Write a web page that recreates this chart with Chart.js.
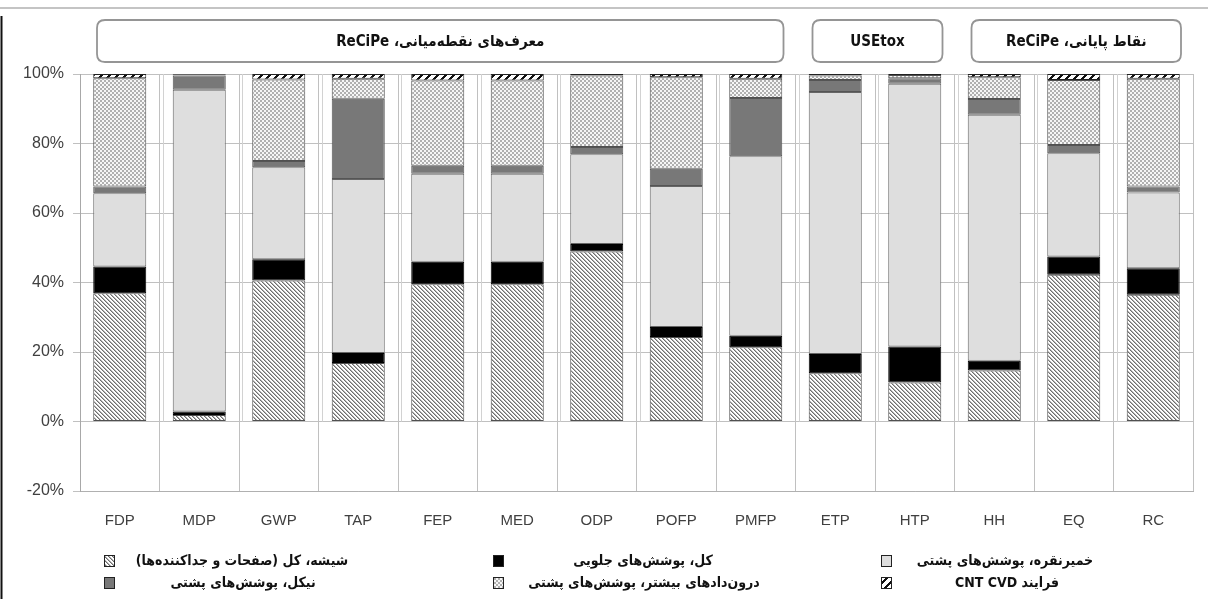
<!DOCTYPE html>
<html lang="fa">
<head>
<meta charset="utf-8">
<title>سهم اجزا در شاخص‌های اثر</title>
<script src="https://cdn.jsdelivr.net/npm/chart.js@4.4.1/dist/chart.umd.min.js"></script>
<style>
  html, body { margin: 0; padding: 0; background: #fff; }
  #wrap { position: relative; width: 1208px; height: 599px; }
  canvas { display: block; }
</style>
</head>
<body>
<div id="wrap"><canvas id="c" width="1208" height="599"></canvas></div>
<script>
// Impact categories along the x axis
const categories = ['FDP','MDP','GWP','TAP','FEP','MED','ODP','POFP','PMFP','ETP','HTP','HH','EQ','RC'];

// Share of each component (%), stacked bottom to top
const glassTotal      = [36.9, 1.9, 40.6, 16.8, 39.5, 39.5, 48.9, 24.3, 21.4, 13.9, 11.2, 14.7, 42.2, 36.5];
const frontContacts   = [ 7.7, 1.0,  6.1,  2.9,  6.5,  6.5,  2.2,  2.9,  3.3,  5.5, 10.4,  2.8,  5.3,  7.6];
const silverPaste     = [21.1,92.6, 26.5, 50.1, 25.3, 25.3, 25.8, 40.6, 51.6, 75.4, 75.6, 70.8, 29.7, 21.8];
const nickelBack      = [ 1.9, 4.1,  1.8, 23.1,  2.3,  2.3,  2.1,  4.9, 16.8,  3.5,  1.6,  4.5,  2.4,  1.7];
const otherInputsBack = [31.2, 0.2, 23.4,  5.7, 24.5, 24.5, 20.6, 26.4,  5.5,  1.3,  0.9,  6.3, 18.7, 31.0];
const cntCvd          = [ 1.2, 0.2,  1.6,  1.4,  1.9,  1.9,  0.4,  0.9,  1.4,  0.4,  0.3,  0.9,  1.7,  1.4];

const seriesNames = [
  'شیشه، کل (صفحات و جداکننده‌ها)',
  'کل، پوشش‌های جلویی',
  'خمیرنقره، پوشش‌های پشتی',
  'نیکل، پوشش‌های پشتی',
  'درون‌دادهای بیشتر، پوشش‌های پشتی',
  'فرایند CNT CVD'
];

// Method groups shown in boxes above the bars (first and last category index)
const groupLabels = ['معرف‌های نقطه‌میانی، ReCiPe', 'USEtox', 'نقاط پایانی، ReCiPe'];
const groupFirst  = [0, 9, 11];
const groupLast   = [8, 10, 13];

const yTicks = [-20, 0, 20, 40, 60, 80, 100];

// ---- fill patterns ----
function tile(size, paint) {
  const c = document.createElement('canvas');
  c.width = c.height = size;
  const g = c.getContext('2d');
  paint(g, size);
  return document.createElement('canvas').getContext('2d').createPattern(c, 'repeat');
}
const patGlass = tile(4, (g, s) => {
  g.fillStyle = '#ffffff'; g.fillRect(0, 0, s, s);
  g.fillStyle = '#6e6e6e';
  for (let i = 0; i < s; i++) g.fillRect(i, i, 1, 1);
  g.fillStyle = '#b4b4b4';
  for (let i = 0; i < s; i++) g.fillRect((i + 1) % s, i, 1, 1);
});
const patDots = tile(4, (g, s) => {
  g.fillStyle = '#f6f6f6'; g.fillRect(0, 0, s, s);
  g.fillStyle = '#b0b0b0';
  g.fillRect(0, 0, 2, 2); g.fillRect(2, 2, 2, 2);
});
const patCnt = tile(8, (g, s) => {
  g.fillStyle = '#ffffff'; g.fillRect(0, 0, s, s);
  g.fillStyle = '#111111';
  for (let y = 0; y < s; y++) for (let w = 0; w < 3; w++) g.fillRect((s - 1 - y + w) % s, y, 1, 1);
});

const fills   = [patGlass, '#000000', '#dedede', '#787878', patDots, patCnt];
const borders = ['#505050', '#000000', '#666666', '#555555', '#505050', '#222222'];
const seriesData = [glassTotal, frontContacts, silverPaste, nickelBack, otherInputsBack, cntCvd];

// ---- group boxes, legend and frame ----
function roundRect(ctx, x, y, w, h, r) {
  ctx.beginPath();
  ctx.moveTo(x + r, y);
  ctx.lineTo(x + w - r, y); ctx.quadraticCurveTo(x + w, y, x + w, y + r);
  ctx.lineTo(x + w, y + h - r); ctx.quadraticCurveTo(x + w, y + h, x + w - r, y + h);
  ctx.lineTo(x + r, y + h); ctx.quadraticCurveTo(x, y + h, x, y + h - r);
  ctx.lineTo(x, y + r); ctx.quadraticCurveTo(x, y, x + r, y);
  ctx.closePath();
}

// legend slots: [series index, column centre of text, icon x, row y]
const legendSlots = [
  [0, 242, 109, 561], [1, 643, 498, 561], [2, 1005, 886, 561],
  [3, 243, 109, 583], [4, 644, 498, 583], [5, 1007, 886, 583]
];

const decor = {
  id: 'decor',
  beforeDatasetsDraw(chart) {
    // faint companion line beside each category divider, across the positive range
    const ctx = chart.ctx;
    const x = chart.scales.x, y = chart.scales.y;
    const half = (x.getPixelForValue(1) - x.getPixelForValue(0)) / 2;
    const top = y.getPixelForValue(100), zero = y.getPixelForValue(0);
    ctx.save();
    ctx.strokeStyle = '#d2d2d2'; ctx.lineWidth = 1;
    for (let i = 1; i < categories.length; i++) {
      const px = Math.round(x.getPixelForValue(i) - half) + 3.5;
      ctx.beginPath(); ctx.moveTo(px, top); ctx.lineTo(px, zero); ctx.stroke();
    }
    ctx.restore();
  },
  afterDraw(chart) {
    const ctx = chart.ctx;
    const x = chart.scales.x;
    const half = (x.getPixelForValue(1) - x.getPixelForValue(0)) / 2;
    ctx.save();

    // outer frame
    ctx.strokeStyle = '#c4c4c4'; ctx.lineWidth = 2;
    ctx.beginPath(); ctx.moveTo(0, 8); ctx.lineTo(1208, 8); ctx.stroke();
    ctx.strokeStyle = '#111'; ctx.lineWidth = 2;
    ctx.beginPath(); ctx.moveTo(1.5, 16); ctx.lineTo(1.5, 599); ctx.stroke();

    // method group boxes
    groupLabels.forEach((label, i) => {
      const l = x.getPixelForValue(groupFirst[i]) - half + 17;
      const r = x.getPixelForValue(groupLast[i]) + half - 12;
      roundRect(ctx, l, 20, r - l, 42, 8);
      ctx.fillStyle = '#ffffff'; ctx.fill();
      ctx.strokeStyle = '#959595'; ctx.lineWidth = 1.8; ctx.stroke();
      ctx.fillStyle = '#111';
      ctx.font = 'bold 15px "DejaVu Sans Condensed", "DejaVu Sans", sans-serif';
      ctx.direction = 'rtl';
      ctx.textAlign = 'center'; ctx.textBaseline = 'middle';
      ctx.fillText(label, (l + r) / 2, 42);
    });

    // legend
    legendSlots.forEach(([si, tx, ix, y]) => {
      ctx.fillStyle = fills[si];
      ctx.fillRect(ix - 5, y - 6, 10, 11);
      ctx.strokeStyle = '#222'; ctx.lineWidth = 1;
      ctx.strokeRect(ix - 4.5, y - 5.5, 10, 11);
      ctx.fillStyle = '#111';
      ctx.font = 'bold 14px "DejaVu Sans Condensed", "DejaVu Sans", sans-serif';
      ctx.direction = 'rtl';
      ctx.textAlign = 'center'; ctx.textBaseline = 'middle';
      ctx.fillText(seriesNames[si], tx, y);
    });
    ctx.restore();
  }
};

Chart.defaults.font.family = '"Liberation Sans", Arial, sans-serif';
Chart.defaults.color = '#404040';

new Chart(document.getElementById('c'), {
  type: 'bar',
  data: {
    labels: categories,
    datasets: seriesData.map((d, i) => ({
      label: seriesNames[i],
      data: d,
      backgroundColor: fills[i],
      borderColor: borders[i],
      borderWidth: 1,
      borderSkipped: false,
      barPercentage: 1,
      categoryPercentage: 0.667
    }))
  },
  options: {
    responsive: false,
    devicePixelRatio: 1,
    animation: false,
    events: [],
    layout: { padding: { top: 74, right: 15, bottom: 68, left: 0 } },
    plugins: { legend: { display: false }, tooltip: { enabled: false }, title: { display: false } },
    scales: {
      x: {
        stacked: true,
        offset: true,
        grid: { offset: true, color: '#c0c0c0', lineWidth: 1, drawTicks: false },
        border: { color: '#b0b0b0' },
        ticks: { padding: 21, font: { size: 15 }, color: '#404040' },
        afterFit(s) { s.height = 40; }
      },
      y: {
        stacked: true,
        min: -20, max: 100,
        afterBuildTicks(s) { s.ticks = yTicks.map(v => ({ value: v })); },
        grid: { color: '#c0c0c0', lineWidth: 1, tickLength: 7 },
        border: { color: '#a8a8a8' },
        ticks: { padding: 9, font: { size: 16 }, color: '#404040', callback: v => v + '%' },
        afterFit(s) { s.width = 80; }
      }
    }
  },
  plugins: [decor]
});
</script>
</body>
</html>
